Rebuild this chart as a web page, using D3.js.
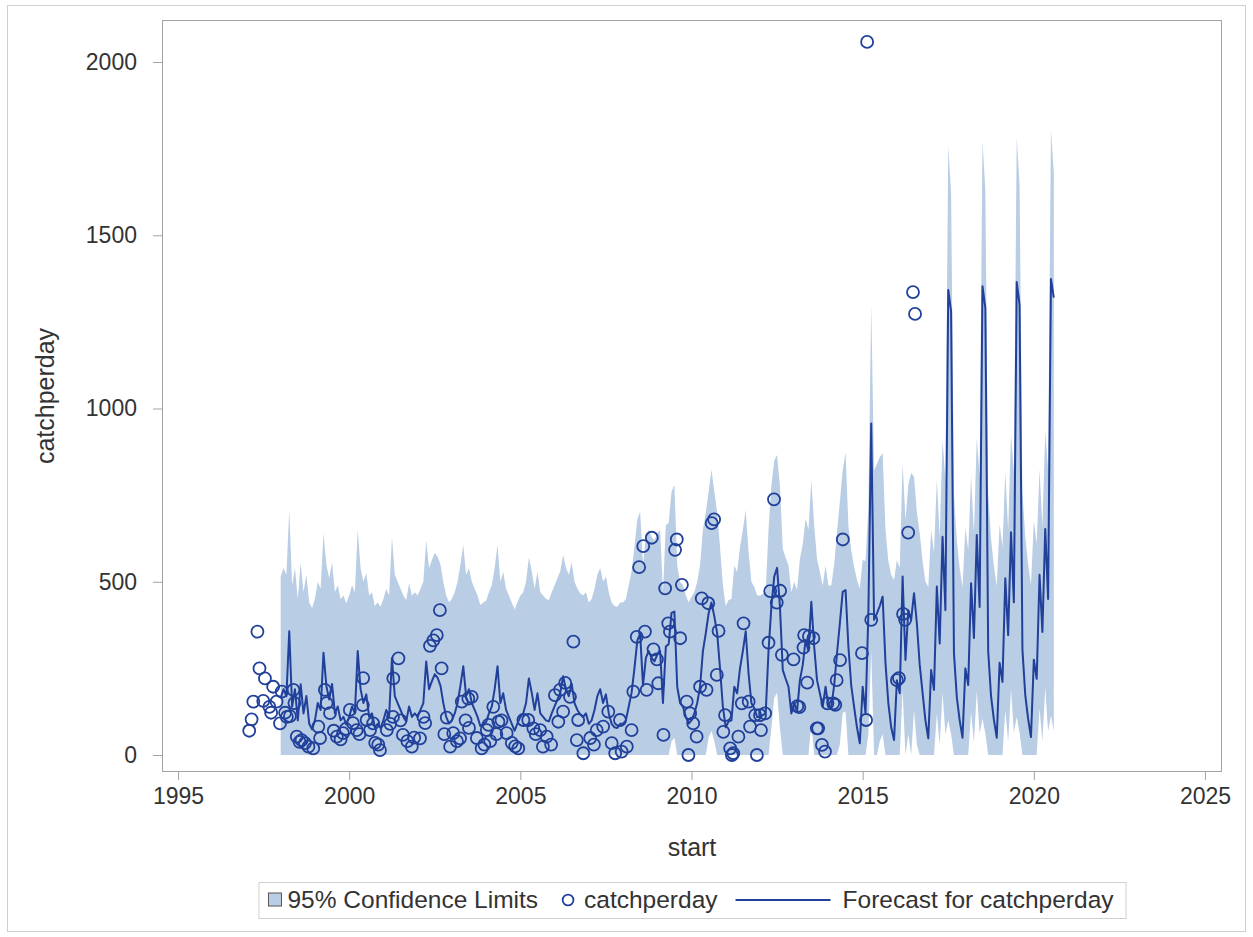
<!DOCTYPE html>
<html>
<head>
<meta charset="utf-8">
<script src="https://cdn.jsdelivr.net/npm/d3@7/dist/d3.min.js"></script>
<style>
  body { margin: 0; background: #fff; }
  text { font-family: "Liberation Sans", Arial, sans-serif; fill: #333; }
</style>
</head>
<body>
<div id="chart"></div>
<script>
// ---- data ----
// forecast series is monthly, first value is Jan 1998
const fcStart = 1998;
const forecast = [
  165, 190, 170, 357, 140, 190, 100, 204, 120, 170, 90, 74,      // 1998
  100, 150, 130, 295, 200, 160, 205, 120, 140, 100, 110, 88,     // 1999
  110, 140, 120, 300, 190, 150, 175, 110, 120, 80, 90, 78,       // 2000
  100, 130, 110, 280, 170, 150, 130, 110, 97, 140, 110, 120,     // 2001
  110, 130, 150, 270, 190, 213, 233, 223, 200, 150, 110, 91,     // 2002
  100, 120, 150, 200, 256, 170, 190, 150, 130, 110, 83, 90,      // 2003
  95, 120, 140, 190, 256, 150, 178, 130, 110, 90, 70, 91,        // 2004
  110, 120, 150, 221, 180, 130, 178, 120, 110, 100, 97, 120,     // 2005
  140, 160, 180, 227, 190, 170, 206, 150, 130, 117, 110, 120,    // 2006
  90, 100, 130, 170, 190, 150, 175, 120, 90, 80, 78, 90,         // 2007
  90, 100, 140, 180, 250, 330, 350, 200, 280, 300, 280, 270,     // 2008
  290, 300, 150, 313, 320, 410, 414, 197, 150, 140, 110, 91,     // 2009
  100, 120, 150, 197, 300, 351, 409, 440, 400, 351, 250, 139,    // 2010
  80, 97, 100, 197, 178, 250, 300, 357, 236, 150, 135, 110,      // 2011
  110, 115, 120, 300, 428, 515, 540, 428, 245, 220, 197, 120,    // 2012
  150, 126, 216, 260, 332, 300, 442, 313, 216, 178, 139, 197,    // 2013
  139, 139, 200, 293, 380, 471, 476, 313, 200, 139, 80, 34,      // 2014
  197, 120, 409, 957, 390, 409, 430, 457, 265, 150, 80, 43,      // 2015
  216, 178, 515, 274, 418, 390, 467, 380, 260, 180, 100, 48,     // 2016
  245, 188, 486, 322, 630, 418, 1342, 1280, 294, 167, 100, 50,   // 2017
  250, 202, 496, 338, 635, 427, 1353, 1290, 300, 170, 102, 50,   // 2018
  266, 211, 510, 346, 643, 441, 1365, 1300, 305, 173, 104, 52,   // 2019
  275, 220, 520, 355, 652, 450, 1374, 1320                       // 2020
];
const upper95 = [
  515, 540, 520, 707, 490, 540, 450, 554, 470, 520, 440, 424,
  450, 500, 480, 640, 550, 510, 556, 470, 490, 450, 460, 438,
  460, 490, 470, 650, 540, 500, 525, 460, 470, 430, 440, 428,
  450, 480, 460, 630, 520, 500, 480, 460, 447, 495, 460, 470,
  460, 480, 500, 620, 540, 563, 583, 573, 550, 500, 460, 441,
  450, 470, 500, 550, 606, 520, 540, 500, 480, 460, 433, 440,
  445, 470, 490, 540, 606, 500, 528, 480, 460, 440, 420, 441,
  460, 470, 500, 571, 530, 480, 528, 470, 460, 450, 447, 470,
  490, 510, 530, 577, 540, 520, 556, 500, 480, 467, 460, 470,
  440, 450, 480, 520, 540, 500, 515, 470, 440, 430, 428, 440,
  440, 450, 490, 530, 600, 680, 702, 550, 630, 650, 630, 620,
  640, 650, 470, 663, 670, 760, 780, 547, 500, 490, 460, 441,
  456, 470, 500, 547, 650, 700, 760, 823, 760, 700, 600, 490,
  430, 447, 450, 547, 528, 600, 650, 707, 586, 500, 485, 460,
  460, 465, 470, 650, 778, 850, 866, 778, 595, 570, 547, 470,
  500, 476, 566, 610, 682, 650, 794, 663, 566, 528, 489, 547,
  489, 489, 550, 643, 730, 821, 874, 663, 590, 543, 505, 480,
  563, 560, 716, 1300, 822, 840, 860, 871, 649, 560, 520, 505,
  563, 540, 843, 678, 780, 814, 803, 700, 640, 560, 500, 485,
  650, 583, 794, 630, 909, 794, 1760, 1620, 750, 620, 540, 485,
  655, 590, 805, 640, 915, 805, 1772, 1630, 755, 625, 545, 488,
  665, 600, 815, 650, 925, 815, 1784, 1645, 760, 630, 550, 492,
  675, 610, 825, 660, 935, 825, 1804, 1680
];
const lower95 = [
  0, 0, 0, 0, 0, 0, 0, 0, 0, 0, 0, 0,
  0, 0, 0, 0, 0, 0, 0, 0, 0, 0, 0, 0,
  0, 0, 0, 0, 0, 0, 0, 0, 0, 0, 0, 0,
  0, 0, 0, 0, 0, 0, 0, 0, 0, 0, 0, 0,
  0, 0, 0, 0, 0, 0, 0, 0, 0, 0, 0, 0,
  0, 0, 0, 0, 0, 0, 0, 0, 0, 0, 0, 0,
  0, 0, 0, 0, 0, 0, 0, 0, 0, 0, 0, 0,
  0, 0, 0, 0, 0, 0, 0, 0, 0, 0, 0, 0,
  0, 0, 0, 0, 0, 0, 0, 0, 0, 0, 0, 0,
  0, 0, 0, 0, 0, 0, 0, 0, 0, 0, 0, 0,
  0, 0, 0, 0, 0, 0, 0, 0, 0, 0, 0, 0,
  0, 0, 0, 0, 0, 40, 50, 0, 0, 0, 0, 0,
  0, 0, 0, 0, 0, 0, 50, 70, 40, 0, 0, 0,
  0, 0, 0, 0, 0, 0, 0, 0, 0, 0, 0, 0,
  0, 0, 0, 0, 78, 165, 180, 78, 0, 0, 0, 0,
  0, 0, 0, 0, 0, 0, 92, 0, 0, 0, 0, 0,
  0, 0, 0, 0, 30, 121, 126, 0, 0, 0, 0, 0,
  0, 0, 60, 300, 0, 0, 40, 60, 0, 0, 0, 0,
  0, 0, 187, 0, 60, 0, 130, 30, 0, 0, 0, 0,
  0, 0, 120, 30, 180, 60, 100, 60, 0, 0, 0, 0,
  0, 0, 125, 35, 185, 62, 105, 62, 0, 0, 0, 0,
  0, 0, 130, 38, 190, 65, 110, 65, 0, 0, 0, 0,
  0, 0, 135, 40, 195, 68, 115, 70
];

// observed catch per day (date as decimal year)
const obsDate = [
  1997.08, 1997.15, 1997.20, 1997.32, 1997.38, 1997.49, 1997.54, 1997.67, 1997.72, 1997.78, 1997.88, 1997.98,
  1998.03, 1998.13, 1998.18, 1998.27, 1998.37, 1998.40, 1998.47, 1998.55, 1998.61, 1998.71, 1998.81, 1998.95,
  1999.10, 1999.15, 1999.29, 1999.34, 1999.44, 1999.55, 1999.64, 1999.75, 1999.82, 1999.90,
  2000.02, 2000.11, 2000.22, 2000.30, 2000.40, 2000.41, 2000.51, 2000.61, 2000.70, 2000.76, 2000.85, 2000.90,
  2001.10, 2001.20, 2001.28, 2001.29, 2001.44, 2001.50, 2001.57, 2001.70, 2001.83, 2001.90,
  2002.07, 2002.17, 2002.22, 2002.36, 2002.46, 2002.56, 2002.65, 2002.70, 2002.78, 2002.85, 2002.95,
  2003.04, 2003.15, 2003.24, 2003.29, 2003.40, 2003.48, 2003.50, 2003.58, 2003.73, 2003.87, 2003.95,
  2004.02, 2004.07, 2004.12, 2004.21, 2004.30, 2004.36, 2004.45, 2004.60, 2004.75, 2004.85, 2004.94,
  2005.09, 2005.23, 2005.38, 2005.45, 2005.58, 2005.66, 2005.77, 2005.90,
  2006.01, 2006.11, 2006.16, 2006.25, 2006.31, 2006.45, 2006.55, 2006.65, 2006.69, 2006.84,
  2007.04, 2007.15, 2007.23, 2007.42, 2007.57, 2007.67, 2007.77, 2007.91, 2007.96,
  2008.11, 2008.25, 2008.30, 2008.40, 2008.47, 2008.59, 2008.64, 2008.69, 2008.84, 2008.89, 2008.99,
  2009.03, 2009.18, 2009.23, 2009.32, 2009.37, 2009.52, 2009.57, 2009.67, 2009.72, 2009.86, 2009.91, 2009.96,
  2010.05, 2010.15, 2010.25, 2010.30, 2010.44, 2010.49, 2010.59, 2010.66, 2010.74, 2010.79, 2010.93, 2010.98,
  2011.13, 2011.18, 2011.22, 2011.37, 2011.47, 2011.52, 2011.67, 2011.71, 2011.86, 2011.91,
  2012.00, 2012.03, 2012.15, 2012.25, 2012.30, 2012.41, 2012.49, 2012.59, 2012.64, 2012.98,
  2013.09, 2013.15, 2013.27, 2013.29, 2013.38, 2013.43, 2013.56, 2013.66, 2013.70, 2013.81, 2013.90, 2013.97,
  2014.14, 2014.20, 2014.24, 2014.34, 2014.42, 2014.98,
  2015.10, 2015.13, 2015.25,
  2016.00, 2016.06, 2016.18, 2016.24, 2016.33, 2016.47, 2016.53
];
const obsValue = [
  70, 103, 154, 356, 250, 156, 221, 139, 122, 197, 154, 91,
  183, 122, 110, 112, 188, 150, 53, 38, 43, 34, 24, 19,
  82, 49, 188, 150, 121, 70, 53, 45, 63, 75,
  130, 92, 72, 60, 144, 222, 101, 72, 91, 35, 30, 14,
  72, 90, 110, 221, 279, 100, 58, 40, 24, 50,
  48, 110, 92, 315, 331, 346, 418, 250, 60, 108, 24,
  63, 40, 48, 154, 100, 163, 78, 168, 49, 19, 30,
  72, 87, 40, 139, 60, 96, 100, 63, 35, 25, 19,
  101, 101, 77, 60, 72, 24, 53, 30,
  173, 96, 188, 125, 208, 168, 327, 43, 101, 5,
  49, 30, 72, 82, 125, 34, 5, 101, 10,
  24, 72, 183, 341, 542, 603, 356, 188, 627, 305, 276,
  207, 58, 481, 380, 356, 592, 622, 337, 491, 154, 0, 120,
  91, 53, 197, 452, 188, 438, 669, 680, 231, 358, 67, 115,
  19, 0, 5, 53, 149, 380, 154, 82, 115, 0,
  115, 72, 120, 324, 473, 738, 440, 474, 289, 276,
  141, 138, 310, 346, 209, 343, 337, 77, 77, 29, 10, 149,
  149, 145, 216, 274, 622, 294,
  101, 2058, 390,
  216, 222, 407, 390, 642, 1336, 1273
];

const xTicks = [1995, 2000, 2005, 2010, 2015, 2020, 2025];
const yTicks = [0, 500, 1000, 1500, 2000];
const legendLabels = ["95% Confidence Limits", "catchperday", "Forecast for catchperday"];

// ---- layout ----
const W = 1253, H = 937;
const frame = {left: 162, top: 20, right: 1222, bottom: 772};
const lineColor = "#20409a";
const bandColor = "#b9cde5";
const frameColor = "#a3a3a3";
const legendFont = "24.5px";

const x = d3.scaleLinear().domain([1995, 2025]).range([178, 1205]);
const y = d3.scaleLinear().domain([0, 2000]).range([755, 62]);

const svg = d3.select("#chart").append("svg")
  .attr("width", W).attr("height", H);

// outer border of the figure
svg.append("rect")
  .attr("x", 7.5).attr("y", 5.5).attr("width", W - 15).attr("height", H - 11)
  .attr("fill", "none").attr("stroke", "#cfcfcf");

svg.append("clipPath").attr("id", "plotclip")
  .append("rect")
  .attr("x", frame.left).attr("y", frame.top)
  .attr("width", frame.right - frame.left).attr("height", frame.bottom - frame.top);

// build the monthly table for band and line
const fc = forecast.map(function(v, i) {
  return {t: fcStart + i / 12, f: v, hi: upper95[i], lo: lower95[i]};
});

const plot = svg.append("g").attr("clip-path", "url(#plotclip)");

// confidence band
plot.append("path")
  .datum(fc)
  .attr("fill", bandColor)
  .attr("d", d3.area()
    .x(function(d) { return x(d.t); })
    .y0(function(d) { return y(d.lo); })
    .y1(function(d) { return y(d.hi); }));

// forecast line
plot.append("path")
  .datum(fc)
  .attr("fill", "none")
  .attr("stroke", lineColor)
  .attr("stroke-width", 2)
  .attr("stroke-linejoin", "round")
  .attr("d", d3.line()
    .x(function(d) { return x(d.t); })
    .y(function(d) { return y(d.f); }));

// observations
plot.selectAll(".obs")
  .data(obsDate.map(function(t, i) { return {t: t, v: obsValue[i]}; }))
  .enter()
  .append("circle")
  .attr("class", "obs")
  .attr("cx", function(d) { return x(d.t); })
  .attr("cy", function(d) { return y(d.v); })
  .attr("r", 6)
  .attr("fill", "none")
  .attr("stroke", lineColor)
  .attr("stroke-width", 1.8);

// frame
svg.append("rect")
  .attr("x", frame.left + 0.5).attr("y", frame.top + 0.5)
  .attr("width", frame.right - frame.left - 1).attr("height", frame.bottom - frame.top - 1)
  .attr("fill", "none").attr("stroke", frameColor);

// axes
const xAxis = svg.append("g")
  .attr("transform", "translate(0," + frame.bottom + ")")
  .call(d3.axisBottom(x).tickValues(xTicks).tickFormat(d3.format("d")).tickSize(8).tickPadding(8));
const yAxis = svg.append("g")
  .attr("transform", "translate(" + frame.left + ",0)")
  .call(d3.axisLeft(y).tickValues(yTicks).tickFormat(d3.format("d")).tickSize(9).tickPadding(16));

[xAxis, yAxis].forEach(function(g) {
  g.select(".domain").remove();
  g.selectAll(".tick line").attr("stroke", frameColor);
  g.selectAll(".tick text")
    .attr("fill", "#333")
    .style("font-family", '"Liberation Sans", Arial, sans-serif')
    .style("font-size", "23px");
});

// axis labels
svg.append("text")
  .attr("x", (frame.left + frame.right) / 2).attr("y", 856)
  .attr("text-anchor", "middle")
  .style("font-size", "25px")
  .text("start");

svg.append("text")
  .attr("transform", "translate(54," + ((frame.top + frame.bottom) / 2) + ") rotate(-90)")
  .attr("text-anchor", "middle")
  .style("font-size", "25px")
  .text("catchperday");

// legend
const legend = svg.append("g");
const legendBox = legend.append("rect")
  .attr("fill", "none").attr("stroke", "#cfcfcf");
const lg = legend.append("g");
let cx = 0;
const ly = 0;

lg.append("rect").attr("x", cx).attr("y", ly - 7).attr("width", 13).attr("height", 13)
  .attr("fill", bandColor).attr("stroke", "#555").attr("stroke-width", 1);
cx += 19;
const t1 = lg.append("text").attr("x", cx).attr("y", ly + 8).style("font-size", legendFont).text(legendLabels[0]);
cx += t1.node().getComputedTextLength() + 24;

lg.append("circle").attr("cx", cx + 6).attr("cy", ly).attr("r", 5.4)
  .attr("fill", "none").attr("stroke", lineColor).attr("stroke-width", 1.8);
cx += 22;
const t2 = lg.append("text").attr("x", cx).attr("y", ly + 8).style("font-size", legendFont).text(legendLabels[1]);
cx += t2.node().getComputedTextLength() + 18;

lg.append("line").attr("x1", cx).attr("x2", cx + 95).attr("y1", ly).attr("y2", ly)
  .attr("stroke", lineColor).attr("stroke-width", 2);
cx += 107;
const t3 = lg.append("text").attr("x", cx).attr("y", ly + 8).style("font-size", legendFont).text(legendLabels[2]);
cx += t3.node().getComputedTextLength();

const legendW = cx + 22;
const legendX = (frame.left + frame.right) / 2 - legendW / 2;
lg.attr("transform", "translate(" + (legendX + 10) + ",900)");
legendBox.attr("x", legendX + 0.5).attr("y", 882.5).attr("width", legendW).attr("height", 36);
</script>
</body>
</html>
